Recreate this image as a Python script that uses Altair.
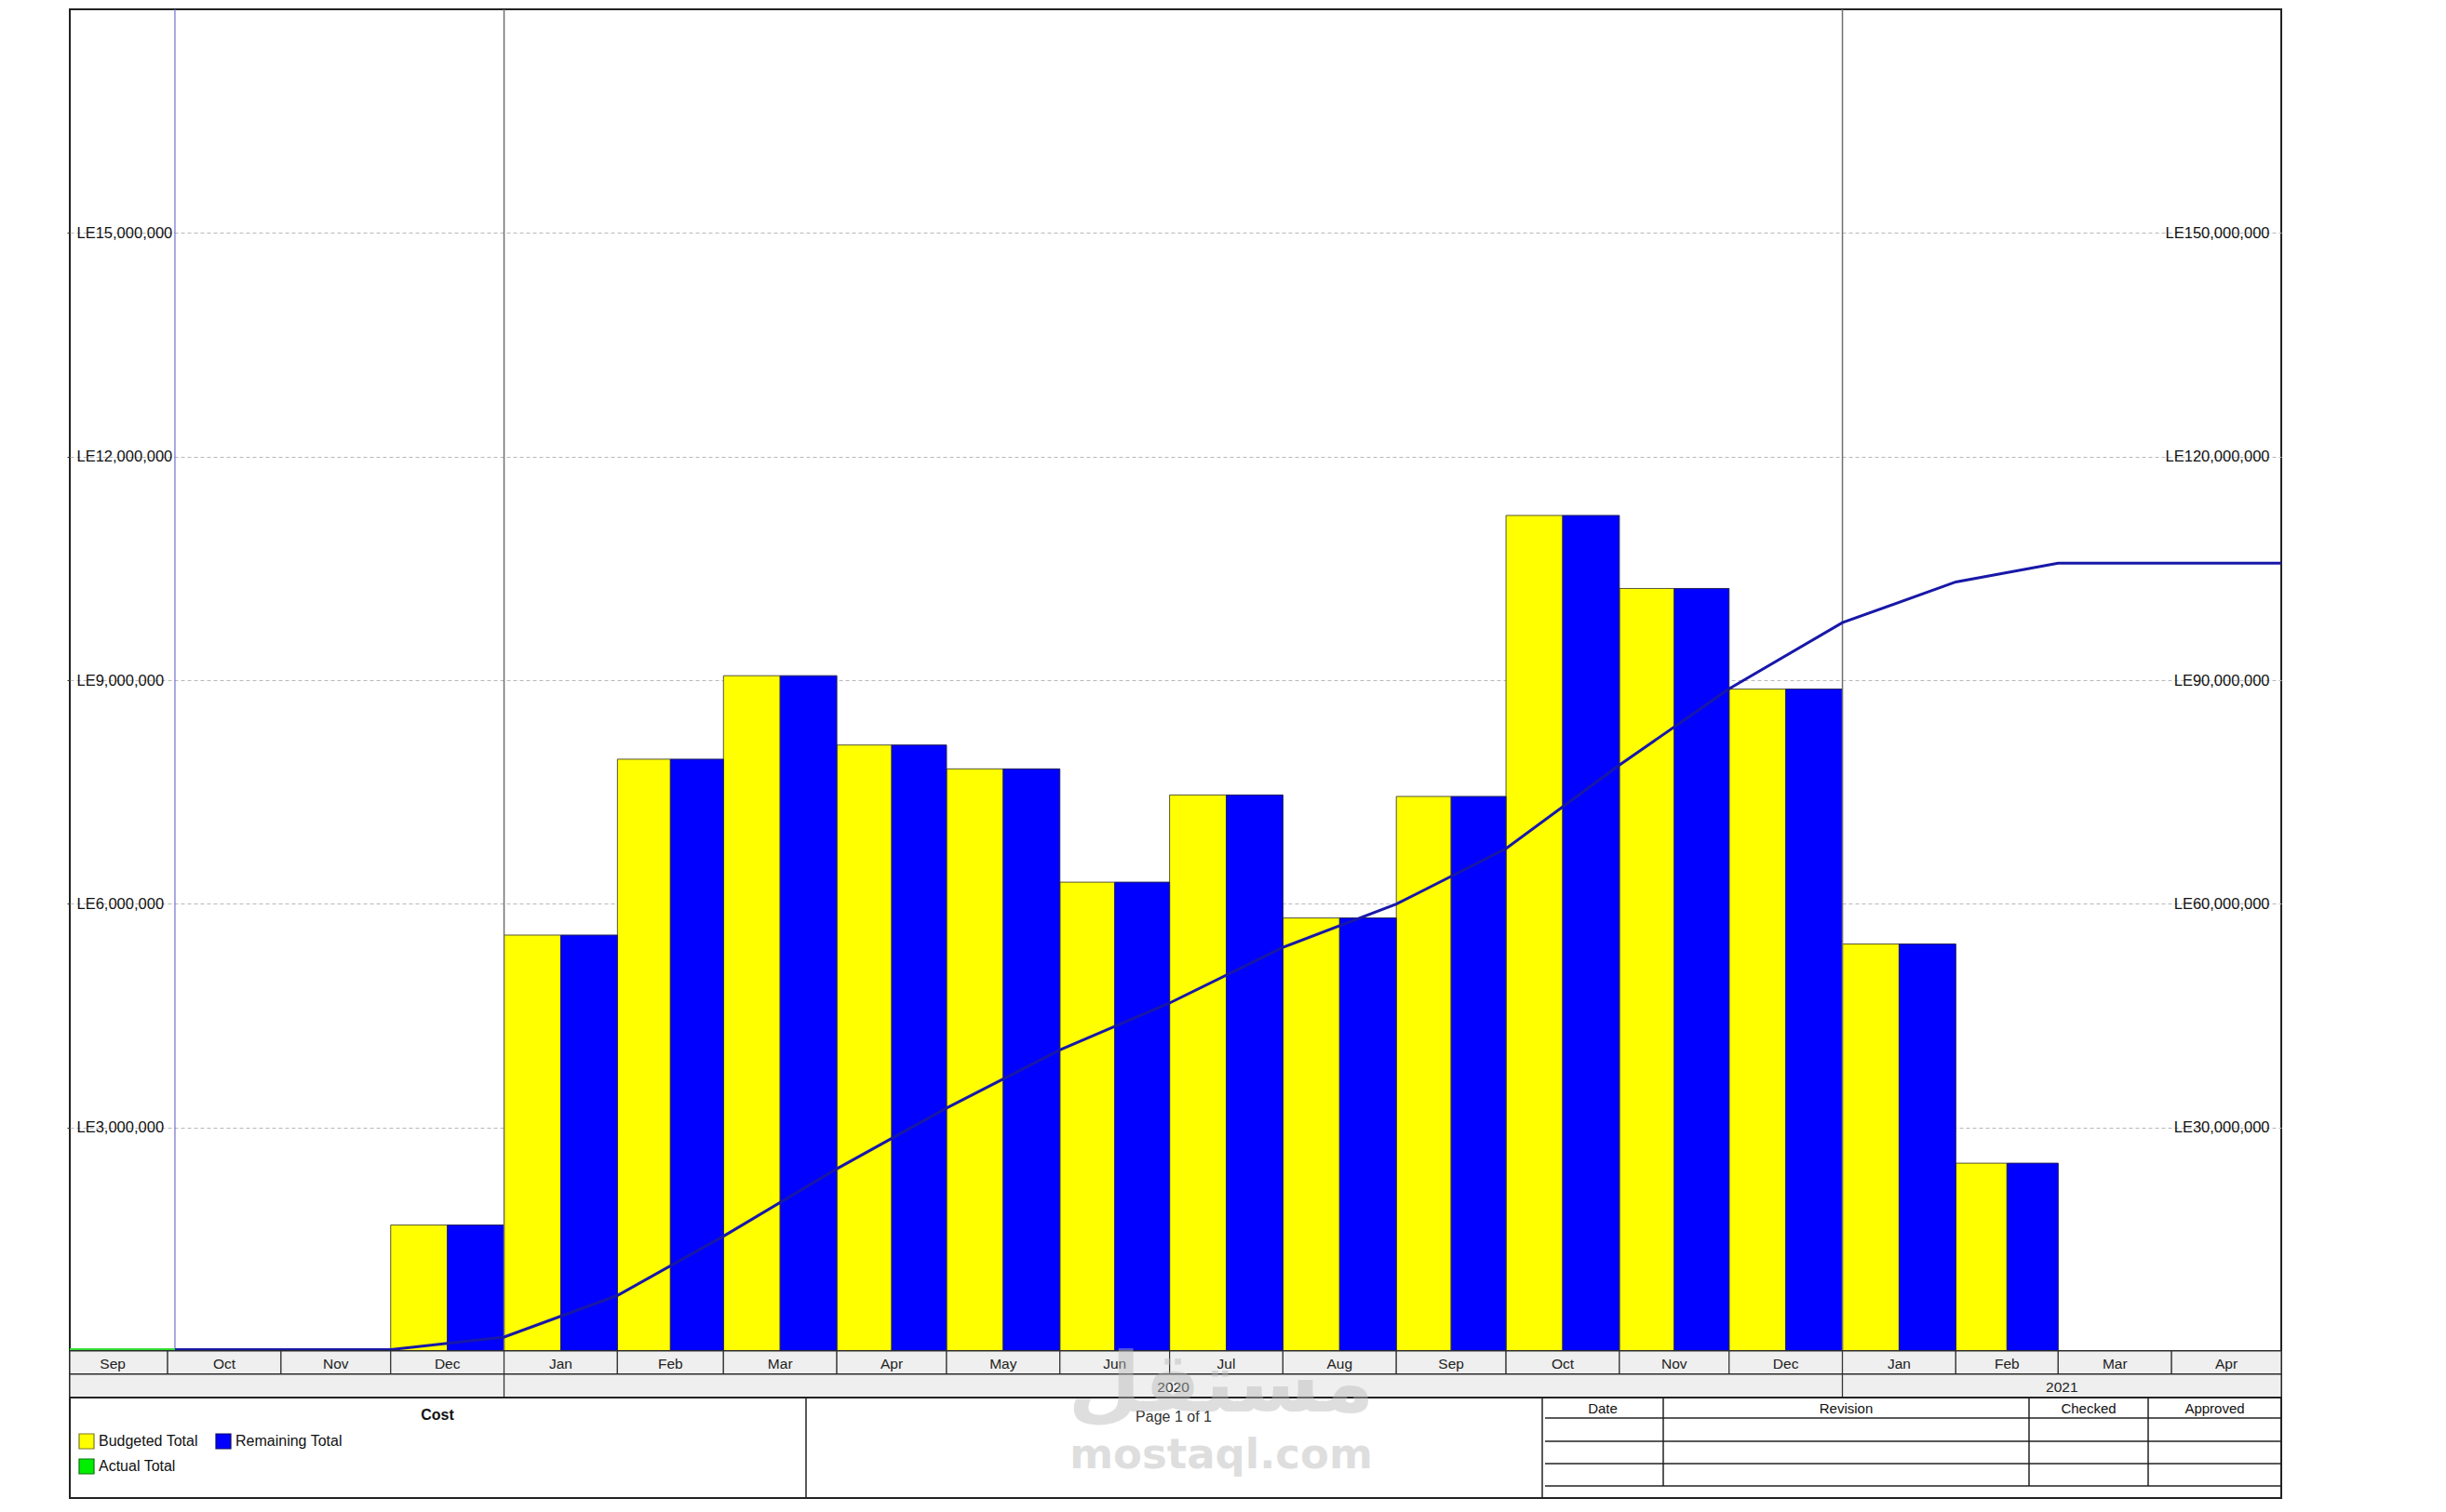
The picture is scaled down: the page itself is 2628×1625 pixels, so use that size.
import numpy as np
import pandas as pd
import altair as alt

# monthly cost (LE)
months = ["2019-12", "2020-01", "2020-02", "2020-03", "2020-04", "2020-05", "2020-06", "2020-07",
          "2020-08", "2020-09", "2020-10", "2020-11", "2020-12", "2021-01", "2021-02"]
budgeted_total = [1690000, 5580000, 7940000, 9060000, 8130000, 7810000, 6290000, 7460000,
                  5810000, 7440000, 11210000, 10230000, 8880000, 5460000, 2520000]
remaining_total = [1690000, 5580000, 7940000, 9060000, 8130000, 7810000, 6290000, 7460000,
                   5810000, 7440000, 11210000, 10230000, 8880000, 5460000, 2520000]
actual_total = [0, 0]

data_date = "2019-10-03"
view_start = pd.Timestamp("2019-09-04 06:00")
view_end = pd.Timestamp("2021-05-01")
year_starts = ["2020-01-01", "2021-01-01"]
years = ["2019", "2020", "2021"]
year_labels = ["", "2020", "2021"]
left_ticks = [3000000, 6000000, 9000000, 12000000, 15000000]
right_ticks = [30000000, 60000000, 90000000, 120000000, 150000000]
legend_names = ["Budgeted Total", "Remaining Total", "Actual Total"]
table_headers = ["Date", "Revision", "Checked", "Approved"]

W = 2376
H = 1442
ROW_H = 25
FOOT_H = 108
FONT = "Liberation Sans"

xscale = alt.Scale(domain=[alt.DateTime(year=2019, month=9, date=4, hours=6),
                           alt.DateTime(year=2021, month=5, date=1)])

start = pd.to_datetime(months)
end = start + pd.offsets.MonthBegin(1)
bars = pd.DataFrame({"start": start, "mid": start + (end - start) / 2, "end": end,
                     "Budgeted Total": budgeted_total, "Remaining Total": remaining_total})

cum = np.cumsum(remaining_total)
line_dates = [pd.Timestamp(data_date), start[0]] + list(end) + [pd.Timestamp("2021-04-01"), view_end]
line_vals = [0, 0] + list(cum) + [cum[-1], cum[-1]]
line_df = pd.DataFrame({"date": line_dates, "cum": line_vals})
actual_df = pd.DataFrame({"date": [view_start, pd.Timestamp(data_date)], "cum": actual_total})

left_axis = alt.Axis(values=left_ticks, labelExpr="'LE' + format(datum.value, ',')",
                     ticks=True, tickSize=3, tickColor="#333", domain=False,
                     labelAlign="left", labelPadding=-10,
                     labelFontSize=16.5, labelColor="#111", grid=True, gridColor="#b8b8b8",
                     gridDash=[4, 3], gridWidth=1, title="")
right_axis = alt.Axis(orient="right", values=right_ticks,
                      labelExpr="'LE' + format(datum.value, ',')", ticks=False, domain=False,
                      labelAlign="right", labelPadding=-13, labelFontSize=16.5, labelColor="#111",
                      grid=False, title="")

yscale = alt.Scale(domain=[0, 18000000], nice=False)
rscale = alt.Scale(domain=[0, 180000000], nice=False)

year_rules = alt.Chart(pd.DataFrame({"date": pd.to_datetime(year_starts)})).mark_rule(
    color="#707070", strokeWidth=1.5).encode(x=alt.X("date:T", scale=xscale, axis=None))
dd_rule = alt.Chart(pd.DataFrame({"date": [pd.Timestamp(data_date)]})).mark_rule(
    color="#7070cc", strokeWidth=1.2).encode(x=alt.X("date:T", scale=xscale, axis=None))

yellow = alt.Chart(bars).mark_bar(color="#ffff00", stroke="#55553a", strokeWidth=1).encode(
    x=alt.X("start:T", scale=xscale, axis=None), x2="mid:T",
    y=alt.Y("Budgeted Total:Q", scale=yscale, axis=left_axis), y2=alt.datum(0))
blue = alt.Chart(bars).mark_bar(color="#0000ff", stroke="#22225a", strokeWidth=1).encode(
    x=alt.X("mid:T", scale=xscale, axis=None), x2="end:T",
    y=alt.Y("Remaining Total:Q", scale=yscale, axis=None), y2=alt.datum(0))

cum_line = alt.Chart(line_df).mark_line(color="#1818a8", strokeWidth=3, yOffset=-1.5).encode(
    x=alt.X("date:T", scale=xscale, axis=None),
    y=alt.Y("cum:Q", scale=rscale, axis=right_axis))
act_line = alt.Chart(actual_df).mark_line(color="#33dd33", strokeWidth=3, yOffset=-1.5).encode(
    x=alt.X("date:T", scale=xscale, axis=None),
    y=alt.Y("cum:Q", scale=rscale, axis=None))

main = alt.layer(yellow, blue, year_rules, dd_rule, cum_line, act_line).resolve_scale(
    y="independent").properties(width=W, height=H)

# timescale rows
scale_months = pd.date_range("2019-09-01", "2021-04-01", freq="MS")
m_end = scale_months + pd.offsets.MonthBegin(1)
month_df = pd.DataFrame({
    "start": [max(d, view_start) for d in scale_months], "end": m_end,
    "mid": scale_months + (m_end - scale_months) / 2,
    "label": [d.strftime("%b") for d in scale_months]})
month_row = alt.layer(
    alt.Chart(month_df).mark_rect(fill="#efefef", stroke="#333", strokeWidth=1.2).encode(
        x=alt.X("start:T", scale=xscale, axis=None), x2="end:T",
        y=alt.value(0), y2=alt.value(ROW_H)),
    alt.Chart(month_df).mark_text(fontSize=15.5, color="#222", baseline="middle").encode(
        x=alt.X("mid:T", scale=xscale, axis=None), y=alt.value(ROW_H / 2 + 1), text="label:N"),
).properties(width=W, height=ROW_H)

y_start = pd.to_datetime([y + "-01-01" for y in years])
y_df = pd.DataFrame({"start": [max(d, view_start) for d in y_start],
                     "end": [min(d + pd.offsets.YearBegin(1), view_end) for d in y_start],
                     "label": year_labels})
y_df["mid"] = y_df["start"] + (y_df["end"] - y_df["start"]) / 2
year_row = alt.layer(
    alt.Chart(y_df).mark_rect(fill="#efefef", stroke="#333", strokeWidth=1.2).encode(
        x=alt.X("start:T", scale=xscale, axis=None), x2="end:T",
        y=alt.value(0), y2=alt.value(ROW_H)),
    alt.Chart(y_df).mark_text(fontSize=15.5, color="#222", baseline="middle").encode(
        x=alt.X("mid:T", scale=xscale, axis=None), y=alt.value(ROW_H / 2 + 1), text="label:N"),
).properties(width=W, height=ROW_H)

# footer: legend box, page box, revision table
px = lambda f: alt.X(f, scale=None, axis=None)
py = lambda f: alt.Y(f, scale=None, axis=None)
col_x = [1582, 1712, 2105, 2233, W]
seg = pd.DataFrame({
    "x": [791, 1582, 1585, 1585, 1585, 1585, 1712, 2105, 2233],
    "x2": [791, 1582, W, W, W, W, 1712, 2105, 2233],
    "y": [0, 0, 22, 47, 71, 95, 0, 0, 0],
    "y2": [FOOT_H, FOOT_H, 22, 47, 71, 95, 95, 95, 95]})
lines = alt.Chart(seg).mark_rule(color="#222", strokeWidth=1.5).encode(
    x=px("x:Q"), x2="x2:Q", y=py("y:Q"), y2="y2:Q")
heads = pd.DataFrame({"x": [(a + b) / 2 for a, b in zip(col_x[:-1], col_x[1:])],
                      "t": table_headers})
head_text = alt.Chart(heads).mark_text(fontSize=15, color="#111", baseline="middle").encode(
    x=px("x:Q"), y=alt.value(12), text="t:N")
sw = pd.DataFrame({"x": [10, 157, 10], "x2": [26, 173, 26], "y": [39, 39, 66], "y2": [55, 55, 82],
                   "c": ["#ffff00", "#0000ff", "#00ee00"], "s": ["#7a7a20", "#101060", "#107010"]})
swatch = alt.Chart(sw).mark_rect(strokeWidth=1.2).encode(
    x=px("x:Q"), x2="x2:Q", y=py("y:Q"), y2="y2:Q",
    fill=alt.Fill("c:N", scale=None), stroke=alt.Stroke("s:N", scale=None))
lab = pd.DataFrame({"x": [31, 178, 31], "y": [47, 47, 74], "t": legend_names})
lab_text = alt.Chart(lab).mark_text(fontSize=16, color="#111", align="left", baseline="middle").encode(
    x=px("x:Q"), y=py("y:Q"), text="t:N")
cost = alt.Chart(pd.DataFrame({"t": ["Cost"]})).mark_text(
    fontSize=16, fontWeight="bold", color="#111", baseline="middle").encode(
    x=alt.value(395), y=alt.value(19), text="t:N")
page = alt.Chart(pd.DataFrame({"t": ["Page 1 of 1"]})).mark_text(
    fontSize=16, color="#333", baseline="middle").encode(
    x=alt.value(1186), y=alt.value(21), text="t:N")
wm1 = alt.Chart(pd.DataFrame({"t": ["مستقل"]})).mark_text(
    font="DejaVu Sans", fontSize=90, fontWeight="bold", color="#b8b8b8", opacity=0.45,
    baseline="middle").encode(x=alt.value(1237), y=alt.value(-12), text="t:N")
wm2 = alt.Chart(pd.DataFrame({"t": ["mostaql.com"]})).mark_text(
    font="DejaVu Sans", fontSize=45, fontWeight="bold", color="#b8b8b8", opacity=0.45,
    baseline="middle").encode(x=alt.value(1237), y=alt.value(62), text="t:N")
footer = alt.layer(lines, head_text, swatch, lab_text, cost, page, wm1, wm2).properties(
    width=W, height=FOOT_H)

chart = alt.vconcat(main, month_row, year_row, footer, spacing=0, bounds="flush").properties(
    padding={"left": 60, "top": 0, "right": 10, "bottom": 0}
).configure(font=FONT).configure_view(stroke="#222", strokeWidth=2)

chart.save("out.html", embed_options={"renderer": "svg", "actions": False})
